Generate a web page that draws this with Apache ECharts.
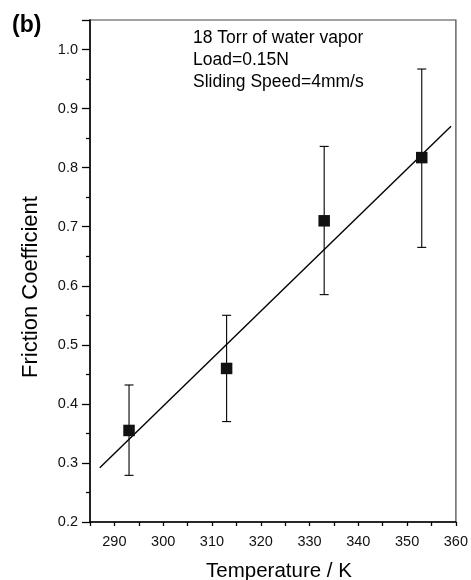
<!DOCTYPE html>
<html>
<head>
<meta charset="utf-8">
<script src="https://cdn.jsdelivr.net/npm/echarts@6/dist/echarts.min.js"></script>
<style>
html,body{margin:0;padding:0;background:#fff;}
#chart{width:471px;height:580px;}
</style>
</head>
<body>
<div id="chart"></div>
<script>
// Data
const temperatures = [293, 313, 333, 353];
const frictionMean = [0.355, 0.460, 0.710, 0.817];
const frictionLow  = [0.279, 0.370, 0.585, 0.665];
const frictionHigh = [0.432, 0.550, 0.836, 0.967];
const fitLineX = [287, 359];
const fitLineY = [0.292, 0.870];
const annotationLines = ['18 Torr of water vapor', 'Load=0.15N', 'Sliding Speed=4mm/s'];
const xTitle = 'Temperature / K';
const yTitle = 'Friction Coefficient';
const panelLabel = '(b)';

const FONT = "'Liberation Sans', Arial, Helvetica, sans-serif";
const chart = echarts.init(document.getElementById('chart'), null, {renderer: 'canvas'});

const points = temperatures.map((t, i) => [t, frictionMean[i]]);
const errData = temperatures.map((t, i) => [t, frictionLow[i], frictionHigh[i]]);
const fitData = fitLineX.map((x, i) => [x, fitLineY[i]]);

const option = {
  backgroundColor: '#fff',
  animation: false,
  grid: {left: 90, right: 12, top: 20, bottom: 58, show: true, borderColor: '#444', borderWidth: 1.2},
  graphic: [
    {type: 'text', x: 12, y: 26, style: {text: panelLabel, font: 'bold 23px ' + FONT, fill: '#000', verticalAlign: 'middle'}},
    {type: 'text', x: 193, y: 27, style: {text: annotationLines.join('\n'), font: '17.5px ' + FONT, fill: '#000', lineHeight: 22}},
    {type: 'text', x: 279, y: 571, style: {text: xTitle, font: '20.5px ' + FONT, fill: '#000', align: 'center', verticalAlign: 'middle'}},
    {type: 'text', x: 31, y: 287, rotation: Math.PI / 2, style: {text: yTitle, font: '22px ' + FONT, fill: '#000', align: 'center', verticalAlign: 'middle'}}
  ],
  xAxis: {
    type: 'value', min: 285, max: 360, interval: 5,
    axisLine: {show: true, onZero: false, lineStyle: {color: '#000', width: 1.5}},
    axisTick: {show: true, length: 4, lineStyle: {color: '#000', width: 1.3}},
    axisLabel: {fontFamily: FONT, fontSize: 14.5, color: '#111', margin: 12,
      formatter: v => (Math.round(v) % 10 === 0 ? String(Math.round(v)) : '')},
    splitLine: {show: false}
  },
  yAxis: {
    type: 'value', min: 0.2, max: 1.05, interval: 0.1,
    axisLine: {show: true, onZero: false, lineStyle: {color: '#000', width: 1.5}},
    axisTick: {show: true, length: 8, lineStyle: {color: '#000', width: 1.3}},
    minorTick: {show: true, splitNumber: 2, length: 4, lineStyle: {color: '#000', width: 1.3}},
    axisLabel: {fontFamily: FONT, fontSize: 14.5, color: '#111', margin: 12, showMaxLabel: false,
      formatter: v => (Math.abs(v * 10 - Math.round(v * 10)) < 1e-6 ? v.toFixed(1) : '')},
    splitLine: {show: false}
  },
  series: [
    {
      type: 'line', data: fitData, showSymbol: false, symbol: 'none',
      lineStyle: {color: '#000', width: 1.4}, z: 2
    },
    {
      type: 'custom', data: errData, z: 3,
      renderItem: function (params, api) {
        const x = api.value(0);
        const lo = api.coord([x, api.value(1)]);
        const hi = api.coord([x, api.value(2)]);
        const hw = 4.5;
        const style = {stroke: '#000', lineWidth: 1.1};
        return {type: 'group', children: [
          {type: 'line', shape: {x1: lo[0], y1: lo[1], x2: hi[0], y2: hi[1]}, style: style},
          {type: 'line', shape: {x1: lo[0] - hw, y1: lo[1], x2: lo[0] + hw, y2: lo[1]}, style: style},
          {type: 'line', shape: {x1: hi[0] - hw, y1: hi[1], x2: hi[0] + hw, y2: hi[1]}, style: style}
        ]};
      }
    },
    {
      type: 'scatter', data: points, symbol: 'rect', symbolSize: 11.5, z: 4,
      itemStyle: {color: '#111', opacity: 1}
    }
  ]
};
chart.setOption(option);
</script>
</body>
</html>
